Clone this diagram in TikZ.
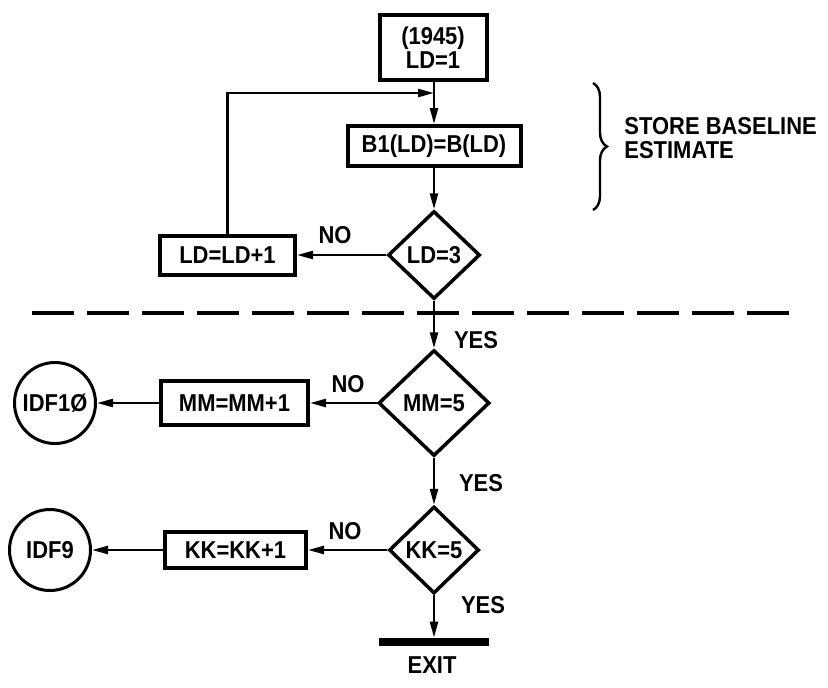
\documentclass[tikz,border=0pt]{standalone}
\usepackage{fontspec}
\setmainfont{Liberation Sans}[FakeStretch=0.9]
\usetikzlibrary{shapes.geometric,arrows.meta,decorations.pathreplacing}
\begin{document}
\begin{tikzpicture}[x=0.5pt,y=-0.5pt,
  lbl/.style={font=\fontsize{12.2}{12}\selectfont\bfseries, inner sep=0pt},
  pbox/.style={lbl, draw, line width=2pt, rectangle, align=center},
  dec/.style={lbl, draw, diamond, line width=1.75pt, inner sep=0pt},
  term/.style={lbl, draw, circle, line width=1.5pt, minimum size=40.5pt},
  arr/.style={line width=1.2pt, -{Triangle[length=8pt,width=4pt]}},
  sep/.style={line width=2pt, dash pattern=on 21pt off 6.5pt},
  bar/.style={fill, inner sep=0pt, minimum width=55pt, minimum height=4pt},
]
\fill[white] (0,0) rectangle (828,687);
\useasboundingbox (0,0) rectangle (828,687);

% main column
\node[pbox, minimum width=53.5pt, minimum height=32.5pt] (b0) at (433,47.5) {(1945)\\LD=1};
\node[pbox, minimum width=86.5pt, minimum height=20pt] (b1) at (434,146) {B1(LD)=B(LD)};
\node[dec, minimum width=46pt, minimum height=44pt] (d1) at (434,255) {LD=3};
\node[pbox, minimum width=67.5pt, minimum height=19.5pt] (b2) at (227.5,255) {LD=LD+1};

\node[dec, minimum width=55.5pt, minimum height=53pt] (d2) at (434,403) {MM=5};
\node[pbox, minimum width=73.5pt, minimum height=22pt] (b3) at (234.5,403) {MM=MM+1};
\node[term] (c1) at (55,403) {IDF1Ø};

\node[dec, minimum width=45pt, minimum height=43.5pt] (d3) at (434,550) {KK=5};
\node[pbox, minimum width=70.5pt, minimum height=18pt] (b4) at (235.5,550) {KK=KK+1};
\node[term] (c2) at (50,550) {IDF9};

\node[bar] (ex) at (434,642) {};
\node[lbl] (exl) at (432,665) {EXIT};

% labels
\node[lbl] (no1) at (335,235) {NO};
\node[lbl] (no2) at (348,384) {NO};
\node[lbl] (no3) at (345,531) {NO};
\node[lbl] (yes1) at (476,340) {YES};
\node[lbl] (yes2) at (481,483) {YES};
\node[lbl] (yes3) at (483,605) {YES};
\node[lbl, anchor=west, align=left] (store) at (624,138) {STORE BASELINE\\ESTIMATE};

% brace
\coordinate (bt) at (593,83);
\coordinate (bb) at (593,210);
\draw[line width=1.2pt, decorate, decoration={brace, amplitude=7pt}] (bt) -- (bb);

% separator
\coordinate (sl) at (32,313);
\coordinate (sr) at (793,313);
\draw[sep] (sl) -- (sr);

% connectors
\coordinate (j) at (434,93);
\draw[arr] (b0.south -| b1.north) -- (b1.north);
\draw[arr] (b2.north) |- (j);
\draw[arr] (b1) -- (d1);
\draw[arr] (d1) -- (b2);
\draw[arr] (d1) -- (d2);
\draw[arr] (d2) -- (b3);
\draw[arr] (b3) -- (c1);
\draw[arr] (d2) -- (d3);
\draw[arr] (d3) -- (b4);
\draw[arr] (b4) -- (c2);
\draw[arr] (d3) -- (ex);
\end{tikzpicture}
\end{document}
